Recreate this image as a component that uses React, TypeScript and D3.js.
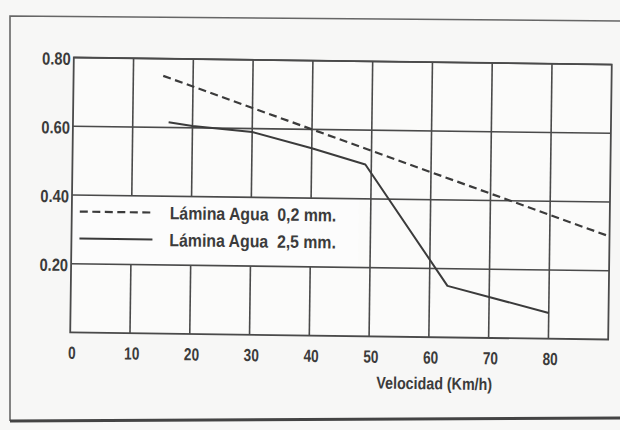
import React from 'react';
import * as d3 from 'd3';

// Coefficient of friction versus speed, for two water film depths
const speedThin = [15, 30, 40, 50, 60, 70, 80, 90];
const frictionThin = [0.75, 0.66, 0.6, 0.54, 0.48, 0.42, 0.36, 0.3];

const speedThick = [16, 20, 30, 40, 49, 63, 80];
const frictionThick = [0.615, 0.605, 0.59, 0.545, 0.5, 0.15, 0.075];

const xTickValues = [0, 10, 20, 30, 40, 50, 60, 70, 80];
const xGridValues = [10, 20, 30, 40, 50, 60, 70, 80];
const yTickValues = [0.2, 0.4, 0.6, 0.8];
const yTickLabels = ['0.20', '0.40', '0.60', '0.80'];

const legendLabels = ['Lámina Agua  0,2 mm.', 'Lámina Agua  2,5 mm.'];
const xAxisTitle = 'Velocidad (Km/h)';

const W = 620;
const H = 430;
const INK = '#3b3b3b';
const GRID = '#4a4a4a';
const FONT = "'Liberation Sans',Arial,sans-serif";

// condensed bold label, drawn by squeezing the regular face horizontally
function Label(props: {
  x: number;
  y: number;
  size: number;
  squeeze: number;
  anchor?: 'start' | 'middle' | 'end';
  children: React.ReactNode;
}) {
  const { x, y, size, squeeze, anchor = 'start', children } = props;
  return (
    <text
      transform={`translate(${x},${y}) scale(${squeeze},1)`}
      dy="0.36em"
      textAnchor={anchor}
      fontFamily={FONT}
      fontWeight="bold"
      fontSize={size}
      fill={INK}
      style={{ whiteSpace: 'pre' }}
    >
      {children}
    </text>
  );
}

export default function App() {
  const x = d3.scaleLinear().domain([0, 90]).range([72, 610]);
  const y = d3.scaleLinear().domain([0, 0.8]).range([336, 61]);

  const line = d3
    .line<[number, number]>()
    .x((d) => x(d[0]))
    .y((d) => y(d[1]));

  const thin = line(speedThin.map((s, i) => [s, frictionThin[i]] as [number, number])) || '';
  const thick = line(speedThick.map((s, i) => [s, frictionThick[i]] as [number, number])) || '';

  const [x0, x1] = x.range();
  const [yb, yt] = y.range();

  // legend panel sits in the band between 0.40 and 0.20
  const legRight = x(48);
  const legTop = y(0.4);
  const legBottom = y(0.2);
  const row1 = legTop + 16.5;
  const row2 = legTop + 43.5;

  return (
    <svg
      width={W}
      height={H}
      style={{ position: 'absolute', left: 0, top: 0, display: 'block', background: '#f7f7f6' }}
    >
      {/* page frame */}
      <path d={`M${W + 5},21 L10,16 L10,421`} fill="none" stroke="#666" strokeWidth={1.6} />
      <path d={`M10,421 L${W + 5},418`} fill="none" stroke="#444" strokeWidth={3} />

      <g transform="rotate(0.75, 340, 198)">
        <rect x={x0} y={yt} width={x1 - x0} height={yb - yt} fill="#fbfbfa" />

        {/* vertical grid */}
        {xGridValues.map((v) => (
          <line key={`vx${v}`} x1={x(v)} x2={x(v)} y1={yt} y2={yb} stroke={GRID} strokeWidth={1.6} />
        ))}

        {/* legend panel */}
        <rect x={x0} y={legTop} width={legRight - x0} height={legBottom - legTop} fill="#fcfcfc" />

        {/* horizontal grid */}
        {yTickValues.map((v) => (
          <line key={`hy${v}`} x1={x0} x2={x1} y1={y(v)} y2={y(v)} stroke={GRID} strokeWidth={1.6} />
        ))}

        {/* plot border */}
        <rect x={x0} y={yt} width={x1 - x0} height={yb - yt} fill="none" stroke={GRID} strokeWidth={1.8} />

        {/* series */}
        <path d={thin} fill="none" stroke={INK} strokeWidth={2.2} strokeDasharray="8,4.5" />
        <path d={thick} fill="none" stroke={INK} strokeWidth={2} strokeLinejoin="round" />

        {/* legend */}
        <line x1={x0 + 8} x2={x0 + 81} y1={row1} y2={row1} stroke={INK} strokeWidth={2.2} strokeDasharray="8,4.5" />
        <line x1={x0 + 8} x2={x0 + 81} y1={row2} y2={row2} stroke={INK} strokeWidth={2} />
        {legendLabels.map((t, i) => (
          <Label key={t} x={x0 + 98} y={i === 0 ? row1 : row2} size={18} squeeze={0.88}>
            {t}
          </Label>
        ))}

        {/* y tick labels */}
        {yTickValues.map((v, i) => (
          <Label key={`yl${v}`} x={x0 - 3} y={y(v) + 1} size={17.5} squeeze={0.84} anchor="end">
            {yTickLabels[i]}
          </Label>
        ))}

        {/* x tick labels */}
        {xTickValues.map((v) => (
          <Label key={`xl${v}`} x={x(v) + 2} y={yb + 20} size={17.5} squeeze={0.78} anchor="middle">
            {v}
          </Label>
        ))}

        <Label x={x(61)} y={yb + 46} size={17} squeeze={0.84} anchor="middle">
          {xAxisTitle}
        </Label>
      </g>
    </svg>
  );
}
